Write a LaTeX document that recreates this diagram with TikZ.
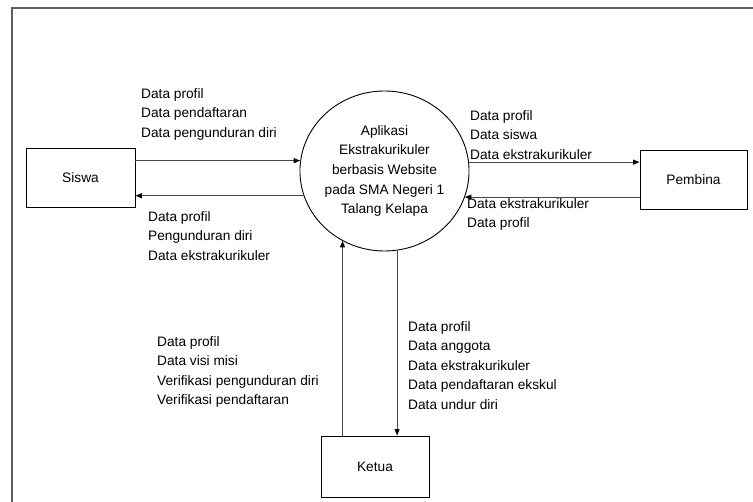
\documentclass[tikz,border=0pt]{standalone}
\usepackage{fontspec}
\setmainfont{Liberation Sans}
\usetikzlibrary{arrows.meta,shapes.geometric}
\begin{document}
\begin{tikzpicture}[x=1pt,y=-1pt,
  every node/.style={font=\fontsize{13.7}{19.6}\selectfont},
  entity/.style={draw=black,line width=0.9pt,inner sep=0},
  process/.style={ellipse,draw=black,line width=0.9pt,inner sep=0,
    minimum width=147pt,minimum height=160pt,align=center},
  flow/.style={draw=gray!55!black,line width=0.9pt,
    -{Triangle[length=6.5pt,width=5pt,color=black]}},
  flowlabel/.style={anchor=north west,align=left,inner sep=0},
  frameline/.style={draw=gray!75!black,line width=1.3pt}
]
\useasboundingbox (0,0) rectangle (753,502);

% page frame (left and top edges)
\draw[frameline] (12,502) -- (12,8) -- (753,8);

% external entities and the process
\node[entity,minimum width=109pt,minimum height=59pt] (siswa) at (80.5,177.5) {Siswa};
\node[entity,minimum width=107pt,minimum height=59pt] (pembina) at (693.5,179.5) {Pembina};
\node[entity,minimum width=108pt,minimum height=61pt] (ketua) at (375,466.5) {Ketua};
\node[process] (app) at (384.5,171) {Aplikasi\\Ekstrakurikuler\\berbasis Website\\pada SMA Negeri 1\\Talang Kelapa};

% data flows
\draw[flow] (siswa.east |- app.173) -- (app.173);
\draw[flow] (app.197.3) -- (siswa.east |- app.197.3);
\draw[flow] (app.6.25) -- (pembina.west |- app.6.25);
\draw[flow] (pembina.west |- app.342.7) -- (app.342.7);
\draw[flow] (ketua.north -| app.239.7) -- (app.239.7);
\draw[flow] (app.279.75) -- (app.279.75 |- ketua.north);

% flow labels
\node[flowlabel] (l1) at (141,88) {Data profil\\Data pendaftaran\\Data pengunduran diri};
\node[flowlabel] (l2) at (148,211) {Data profil\\Pengunduran diri\\Data ekstrakurikuler};
\node[flowlabel] (l3) at (470,110) {Data profil\\Data siswa\\Data ekstrakurikuler};
\node[flowlabel] (l4) at (467,198) {Data ekstrakurikuler\\Data profil};
\node[flowlabel] (l5) at (157,336) {Data profil\\Data visi misi\\Verifikasi pengunduran diri\\Verifikasi pendaftaran};
\node[flowlabel] (l6) at (408,321) {Data profil\\Data anggota\\Data ekstrakurikuler\\Data pendaftaran ekskul\\Data undur diri};
\end{tikzpicture}
\end{document}
